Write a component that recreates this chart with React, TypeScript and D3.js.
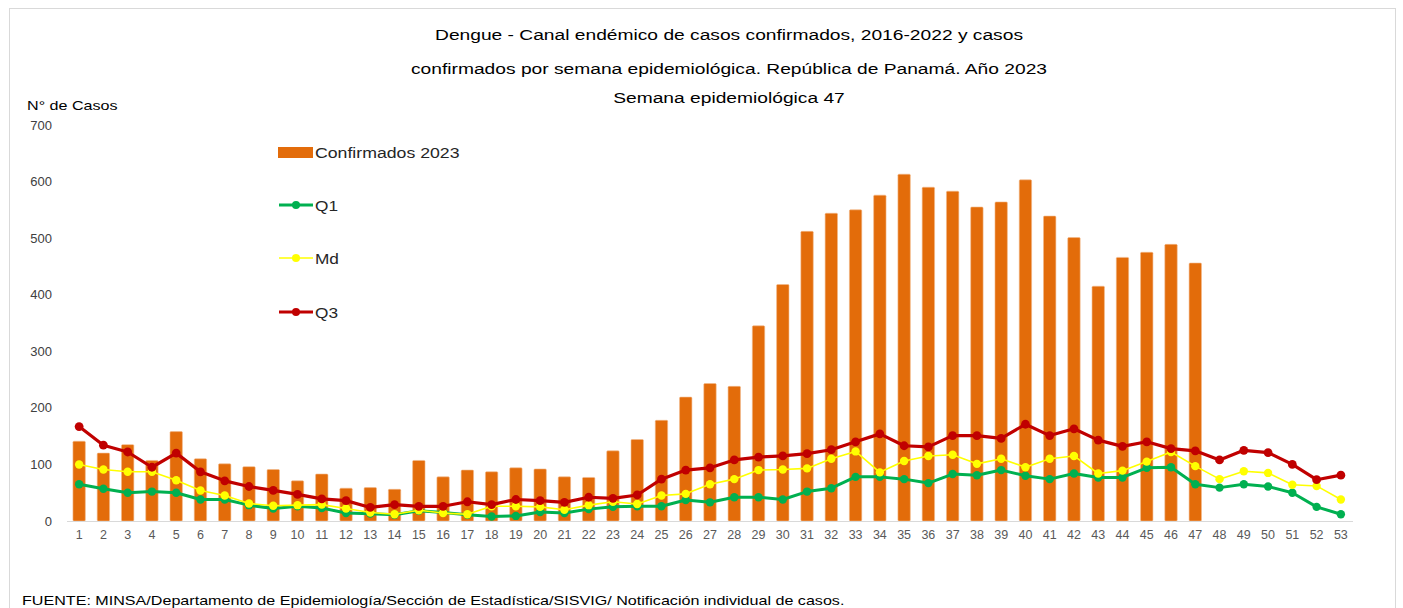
import React from 'react';
import * as d3 from 'd3';

const weeks: string[] = d3.range(1, 54).map(String);

const confirmados: number[] = [
  141, 120, 135, 107, 158, 110, 101, 96, 91, 71, 83, 58, 59, 56, 107, 78,
  90, 87, 94, 92, 78, 77, 124, 144, 178, 219, 243, 238, 345, 418, 512, 544,
  550, 576, 613, 590, 583, 555, 564, 603, 539, 501, 415, 466, 475, 489, 456,
];

const q1: number[] = [
  65, 57, 50, 52, 50, 38, 38, 28, 22, 26, 23, 14, 13, 11, 18, 15,
  11, 8, 9, 16, 14, 21, 25, 26, 26, 37, 33, 42, 42, 38, 52, 58,
  78, 78, 74, 67, 83, 81, 90, 80, 74, 84, 77, 77, 94, 95, 65, 59,
  65, 61, 50, 25, 12,
];

const md: number[] = [
  100, 91, 87, 87, 72, 54, 45, 31, 27, 28, 29, 22, 15, 12, 19, 14,
  12, 26, 26, 25, 20, 28, 34, 30, 45, 48, 65, 74, 90, 91, 93, 110,
  123, 86, 106, 115, 117, 101, 110, 95, 110, 115, 84, 89, 105, 122, 97, 74,
  88, 85, 64, 62, 38,
];

const q3: number[] = [
  167, 134, 122, 95, 120, 87, 71, 61, 54, 47, 39, 36, 24, 29, 26, 26,
  34, 29, 38, 36, 33, 42, 40, 46, 74, 90, 94, 108, 113, 115, 119, 126,
  140, 154, 133, 131, 151, 151, 146, 171, 151, 163, 143, 132, 140, 128, 124, 108,
  125, 121, 100, 73, 81,
];

const yTicks: number[] = [0, 100, 200, 300, 400, 500, 600, 700];

const titleLines: string[] = [
  'Dengue - Canal endémico de casos confirmados, 2016-2022 y casos',
  'confirmados por semana epidemiológica. República de Panamá. Año 2023',
  'Semana epidemiológica 47',
];

const W = 1403;
const H = 608;
const FONT = 'Liberation Sans, Arial, sans-serif';

// the source picture is stretched sideways, so the text is widened with this factor
const SX = 1.24;

const BAR_COLOR = '#E36C0A';
const lineSeries = [
  { name: 'Q1', values: q1, color: '#00B050', width: 3, r: 4.2 },
  { name: 'Md', values: md, color: '#FFFF00', width: 1.6, r: 4.2 },
  { name: 'Q3', values: q3, color: '#C00000', width: 3.2, r: 4.4 },
];

function Wide(props: { x: number; y: number; size: number; fill: string; anchor?: string; sx?: number; children: React.ReactNode }) {
  const s = props.sx ?? SX;
  return (
    <text transform={`translate(${props.x},${props.y}) scale(${s},1)`} textAnchor={props.anchor ?? 'start'}
      fontFamily={FONT} fontSize={props.size} fill={props.fill}>{props.children}</text>
  );
}

export default function App() {
  const x = d3.scaleBand<string>().domain(weeks).range([67, 1353]).paddingInner(0.49).paddingOuter(0.245);
  const y = d3.scaleLinear().domain([0, 700]).range([521, 125]);
  const cx = (i: number) => (x(weeks[i]) as number) + x.bandwidth() / 2;

  const line = d3.line<number>()
    .x((_, i) => cx(i))
    .y(d => y(d));

  return (
    <svg width={W} height={H} style={{ position: 'absolute', left: 0, top: 0, background: '#fff' }}>
      <rect x={9.5} y={8.5} width={1386} height={640} fill="#fff" stroke="#D9D9D9" />

      {titleLines.map((t, i) => (
        <Wide key={i} x={729} y={[40, 74, 103][i]} anchor="middle" size={15.5} fill="#000">{t}</Wide>
      ))}

      <Wide x={27} y={110} size={13} fill="#000">N° de Casos</Wide>

      {yTicks.map(t => (
        <text key={t} x={52} y={y(t) + 4.5} textAnchor="end" fontFamily={FONT} fontSize={13} fill="#404040">{t}</text>
      ))}

      {confirmados.map((v, i) => (
        <rect key={i} x={x(weeks[i])} y={y(v)} width={x.bandwidth()} height={y(0) - y(v)}
          fill={BAR_COLOR} stroke="#F2B98A" strokeWidth={0.6} rx={1} />
      ))}

      <line x1={67} x2={1353} y1={521.5} y2={521.5} stroke="#D9D9D9" strokeWidth={1} />

      {weeks.map((w, i) => (
        <text key={w} x={cx(i)} y={539} textAnchor="middle" fontFamily={FONT} fontSize={12.5} fill="#595959">{w}</text>
      ))}

      {lineSeries.map(s => (
        <g key={s.name}>
          <path d={line(s.values) ?? ''} fill="none" stroke={s.color} strokeWidth={s.width} strokeLinejoin="round" />
          {s.values.map((v, i) => (
            <circle key={i} cx={cx(i)} cy={y(v)} r={s.r} fill={s.color} />
          ))}
        </g>
      ))}

      {/* legend */}
      <rect x={278} y={147} width={35} height={11} fill={BAR_COLOR} />
      <Wide x={315} y={158} size={15} fill="#262626" sx={1.18}>Confirmados 2023</Wide>
      {lineSeries.map((s, i) => {
        const ly = [205, 258, 312][i];
        return (
          <g key={s.name}>
            <line x1={279} x2={313} y1={ly} y2={ly} stroke={s.color} strokeWidth={s.width} />
            <circle cx={296} cy={ly} r={4} fill={s.color} />
            <Wide x={315} y={ly + 5.5} size={15} fill="#262626" sx={1.15}>{s.name}</Wide>
          </g>
        );
      })}

      <Wide x={22} y={605} size={13} fill="#000">
        FUENTE: MINSA/Departamento de Epidemiología/Sección de Estadística/SISVIG/ Notificación individual de casos.
      </Wide>
    </svg>
  );
}
